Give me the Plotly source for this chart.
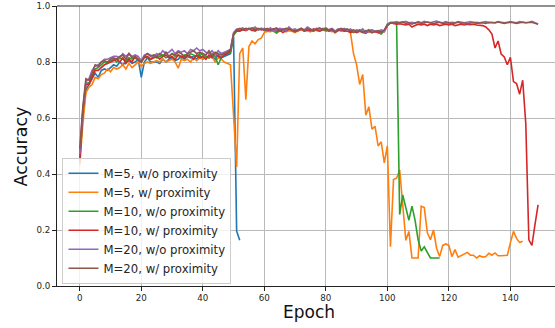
import plotly.graph_objects as go

epoch_ticks = [0, 20, 40, 60, 80, 100, 120, 140]
acc_ticks = [0.0, 0.2, 0.4, 0.6, 0.8, 1.0]
acc_tick_labels = ["0.0", "0.2", "0.4", "0.6", "0.8", "1.0"]

names = ["M=5, w/o proximity", "M=5, w/ proximity", "M=10, w/o proximity",
         "M=10, w/ proximity", "M=20, w/o proximity", "M=20, w/ proximity"]
colors = ["#1f77b4", "#ff7f0e", "#2ca02c", "#d62728", "#9467bd", "#8c564b"]

m5_wo = [0.46, 0.60, 0.70, 0.72, 0.745, 0.76, 0.745, 0.77, 0.775, 0.77,
         0.78, 0.79, 0.785, 0.80, 0.79, 0.80, 0.805, 0.795, 0.80, 0.81,
         0.745, 0.80, 0.815, 0.80, 0.80, 0.80, 0.795, 0.81, 0.80, 0.81,
         0.815, 0.805, 0.81, 0.82, 0.81, 0.82, 0.815, 0.82, 0.81, 0.825,
         0.81, 0.82, 0.815, 0.82, 0.81, 0.825, 0.815, 0.82, 0.825, 0.83,
         0.89, 0.196, 0.163]

m5_w = [0.43, 0.58, 0.69, 0.71, 0.72, 0.745, 0.74, 0.755, 0.76, 0.775,
        0.765, 0.78, 0.775, 0.78, 0.79, 0.775, 0.795, 0.78, 0.79, 0.80,
        0.785, 0.795, 0.80, 0.795, 0.80, 0.805, 0.80, 0.81, 0.80, 0.805,
        0.81, 0.80, 0.778, 0.81, 0.805, 0.81, 0.80, 0.815, 0.805, 0.815,
        0.81, 0.82, 0.815, 0.82, 0.80, 0.815, 0.81, 0.80, 0.795, 0.79,
        0.61, 0.425, 0.83, 0.85, 0.665, 0.855, 0.875, 0.865, 0.88, 0.885,
        0.905, 0.91, 0.908, 0.912, 0.905, 0.91, 0.915, 0.908, 0.912, 0.91,
        0.905, 0.912, 0.915, 0.91, 0.912, 0.908, 0.915, 0.912, 0.91, 0.915,
        0.91, 0.912, 0.908, 0.91, 0.915, 0.91, 0.912, 0.91, 0.905, 0.83,
        0.79, 0.72, 0.755, 0.61, 0.64, 0.56, 0.57, 0.50, 0.515, 0.44,
        0.50, 0.14, 0.38, 0.385, 0.415, 0.29, 0.163, 0.195, 0.10, 0.10,
        0.10, 0.285, 0.28, 0.19, 0.165, 0.20, 0.135, 0.105, 0.145, 0.15,
        0.145, 0.105, 0.13, 0.103, 0.108, 0.113, 0.12, 0.11, 0.11, 0.10,
        0.108, 0.103, 0.105, 0.117, 0.11, 0.118, 0.108, 0.108, 0.108, 0.11,
        0.155, 0.195, 0.17, 0.155, 0.16]

m10_wo = [0.45, 0.62, 0.725, 0.725, 0.75, 0.775, 0.78, 0.79, 0.80, 0.795,
          0.805, 0.81, 0.80, 0.815, 0.81, 0.805, 0.815, 0.81, 0.815, 0.805,
          0.80, 0.82, 0.815, 0.81, 0.82, 0.815, 0.82, 0.825, 0.815, 0.82,
          0.83, 0.82, 0.825, 0.815, 0.825, 0.82, 0.83, 0.825, 0.82, 0.83,
          0.825, 0.82, 0.815, 0.83, 0.82, 0.79, 0.815, 0.825, 0.83, 0.835,
          0.895, 0.91, 0.912, 0.918, 0.915, 0.92, 0.912, 0.918, 0.915, 0.92,
          0.912, 0.915, 0.918, 0.91, 0.903, 0.915, 0.918, 0.912, 0.92, 0.915,
          0.91, 0.915, 0.92, 0.912, 0.918, 0.915, 0.91, 0.918, 0.915, 0.92,
          0.912, 0.915, 0.918, 0.91, 0.915, 0.912, 0.918, 0.91, 0.912, 0.905,
          0.912, 0.915, 0.91, 0.912, 0.908, 0.915, 0.91, 0.905, 0.90, 0.912,
          0.935, 0.94, 0.938, 0.94, 0.255, 0.325, 0.28, 0.235, 0.285, 0.235,
          0.165, 0.125, 0.14, 0.12, 0.10, 0.10, 0.10, 0.10]

m10_w = [0.44, 0.62, 0.72, 0.72, 0.745, 0.77, 0.77, 0.78, 0.79, 0.795,
         0.80, 0.805, 0.81, 0.80, 0.815, 0.795, 0.81, 0.80, 0.82, 0.81,
         0.80, 0.815, 0.82, 0.81, 0.815, 0.82, 0.81, 0.82, 0.825, 0.815,
         0.82, 0.81, 0.825, 0.82, 0.815, 0.825, 0.82, 0.81, 0.825, 0.815,
         0.82, 0.81, 0.825, 0.815, 0.83, 0.82, 0.815, 0.825, 0.83, 0.84,
         0.90, 0.912, 0.91, 0.915, 0.912, 0.918, 0.915, 0.91, 0.918, 0.915,
         0.92, 0.912, 0.915, 0.918, 0.91, 0.915, 0.905, 0.912, 0.918, 0.915,
         0.91, 0.912, 0.918, 0.91, 0.915, 0.912, 0.918, 0.915, 0.91, 0.915,
         0.918, 0.91, 0.915, 0.905, 0.912, 0.915, 0.91, 0.912, 0.905, 0.91,
         0.905, 0.91, 0.905, 0.902, 0.91, 0.905, 0.908, 0.905, 0.912, 0.908,
         0.93, 0.94, 0.938, 0.935, 0.937, 0.935, 0.932, 0.935, 0.925, 0.93,
         0.935, 0.932, 0.935, 0.93, 0.935, 0.932, 0.935, 0.93, 0.933, 0.935,
         0.932, 0.935, 0.93, 0.933, 0.935, 0.932, 0.935, 0.933, 0.935, 0.932,
         0.93, 0.93, 0.925, 0.915, 0.90, 0.85, 0.875, 0.828, 0.818, 0.79,
         0.817, 0.73, 0.723, 0.685, 0.735, 0.58, 0.165, 0.145, 0.22, 0.29]

m20_wo = [0.47, 0.63, 0.73, 0.74, 0.77, 0.785, 0.79, 0.80, 0.81, 0.81,
          0.815, 0.82, 0.82, 0.815, 0.83, 0.82, 0.83, 0.82, 0.825, 0.82,
          0.805, 0.825, 0.83, 0.825, 0.82, 0.83, 0.825, 0.84, 0.83, 0.835,
          0.845, 0.83, 0.84, 0.835, 0.84, 0.83, 0.845, 0.84, 0.85, 0.84,
          0.845, 0.835, 0.83, 0.84, 0.825, 0.84, 0.83, 0.835, 0.84, 0.845,
          0.905, 0.918, 0.918, 0.922, 0.915, 0.92, 0.918, 0.925, 0.915, 0.92,
          0.918, 0.915, 0.922, 0.91, 0.915, 0.92, 0.918, 0.912, 0.925, 0.915,
          0.918, 0.912, 0.92, 0.915, 0.925, 0.918, 0.912, 0.92, 0.915, 0.918,
          0.922, 0.915, 0.92, 0.91, 0.918, 0.915, 0.92, 0.912, 0.918, 0.91,
          0.915, 0.91, 0.918, 0.905, 0.912, 0.915, 0.908, 0.91, 0.915, 0.91,
          0.935, 0.942, 0.94, 0.944, 0.94, 0.942, 0.945, 0.94, 0.942, 0.938,
          0.944, 0.94, 0.945, 0.942, 0.94, 0.944, 0.946, 0.942, 0.94, 0.944,
          0.94, 0.942, 0.94, 0.944, 0.942, 0.94, 0.942, 0.944, 0.94, 0.942,
          0.94, 0.942, 0.944, 0.94, 0.942, 0.94, 0.944, 0.942, 0.94, 0.942,
          0.944, 0.942, 0.94, 0.944, 0.942, 0.94, 0.942, 0.945, 0.94, 0.936]

m20_w = [0.49, 0.64, 0.74, 0.735, 0.76, 0.79, 0.785, 0.80, 0.805, 0.80,
         0.81, 0.815, 0.81, 0.82, 0.825, 0.81, 0.83, 0.815, 0.82, 0.81,
         0.80, 0.82, 0.83, 0.82, 0.825, 0.82, 0.83, 0.82, 0.835, 0.82,
         0.83, 0.825, 0.835, 0.83, 0.82, 0.83, 0.835, 0.84, 0.83, 0.835,
         0.83, 0.825, 0.84, 0.82, 0.835, 0.83, 0.825, 0.83, 0.835, 0.845,
         0.90, 0.915, 0.92, 0.915, 0.92, 0.918, 0.922, 0.915, 0.92, 0.917,
         0.915, 0.92, 0.912, 0.918, 0.922, 0.91, 0.915, 0.92, 0.918, 0.912,
         0.908, 0.915, 0.92, 0.912, 0.918, 0.915, 0.91, 0.918, 0.922, 0.915,
         0.92, 0.912, 0.918, 0.905, 0.915, 0.92, 0.915, 0.918, 0.91, 0.915,
         0.908, 0.912, 0.905, 0.91, 0.915, 0.905, 0.91, 0.912, 0.905, 0.915,
         0.93, 0.94, 0.942, 0.938, 0.94, 0.943, 0.938, 0.94, 0.935, 0.94,
         0.942, 0.938, 0.94, 0.943, 0.94, 0.937, 0.94, 0.942, 0.938, 0.94,
         0.94, 0.937, 0.94, 0.942, 0.938, 0.94, 0.936, 0.94, 0.942, 0.938,
         0.94, 0.94, 0.938, 0.942, 0.94, 0.94, 0.943, 0.94, 0.938, 0.94,
         0.942, 0.94, 0.938, 0.94, 0.942, 0.94, 0.94, 0.942, 0.938, 0.935]

series = [m5_wo, m5_w, m10_wo, m10_w, m20_wo, m20_w]

FONT = "DejaVu Sans"
TXT = "#262626"

fig = go.Figure()
for name, color, vals in zip(names, colors, series):
    fig.add_trace(go.Scatter(
        x=list(range(len(vals))), y=vals, mode="lines", name=name,
        line=dict(color=color, width=1.6),
    ))

axis_common = dict(
    showgrid=True, gridcolor="#bababa", gridwidth=1,
    showline=True, linecolor="#222222", linewidth=1,
    ticks="outside", ticklen=4, tickwidth=1, tickcolor="#222222",
    zeroline=False,
    tickfont=dict(family=FONT, size=8.7, color=TXT),
)

fig.update_layout(
    width=555, height=328,
    margin=dict(l=57, r=0, t=6, b=42),
    paper_bgcolor="white", plot_bgcolor="white",
    font=dict(family=FONT, color=TXT),
    showlegend=True,
    legend=dict(
        x=0.011, y=0.008, xanchor="left", yanchor="bottom",
        bgcolor="rgba(255,255,255,0.8)", bordercolor="#cccccc", borderwidth=1,
        font=dict(family=FONT, size=11.7, color=TXT),
        tracegroupgap=0,
    ),
    xaxis=dict(range=[-7.4, 154.5], tickvals=epoch_ticks, **axis_common),
    yaxis=dict(range=[0, 1], tickvals=acc_ticks, ticktext=acc_tick_labels, **axis_common),
    shapes=[dict(type="line", xref="paper", yref="paper", x0=0, x1=1, y0=1, y1=1,
                 line=dict(color="#222222", width=1))],
    annotations=[
        dict(text="Epoch", xref="paper", yref="paper", x=0.5054, y=-0.0936,
             xanchor="center", yanchor="middle", showarrow=False,
             font=dict(family=FONT, size=17, color="#111111")),
        dict(text="Accuracy", xref="paper", yref="paper", x=-0.0713, y=0.5,
             xanchor="center", yanchor="middle", showarrow=False, textangle=-90,
             font=dict(family=FONT, size=17.5, color="#111111")),
    ],
)

fig.write_html("out.html",
               config={"displayModeBar": False},
               post_script="document.body.style.margin='0';document.body.style.overflow='hidden';")
